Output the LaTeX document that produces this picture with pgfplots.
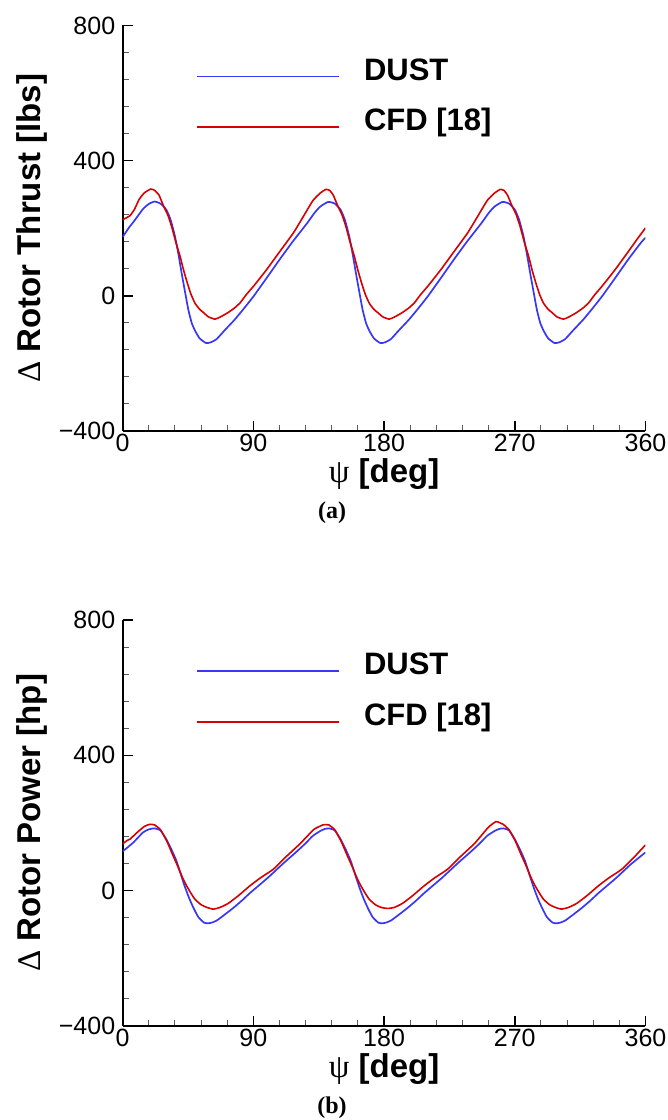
\documentclass[border=0pt]{standalone}
\usepackage{pgfplots}
\pgfplotsset{compat=1.18}
\usepackage{fontspec}
\setmainfont{Liberation Sans}
\newfontfamily\serifgr{Liberation Serif}
\definecolor{dustblue}{RGB}{55,55,245}
\definecolor{cfdred}{RGB}{215,0,0}
\pgfplotsset{
  rotorstyle/.style={
    scale only axis, width=522.8pt, height=405.5pt,
    xmin=0, xmax=360, ymin=-400, ymax=800,
    axis lines*=left,
    axis line style={line width=1.8pt, black},
    xtick={0,90,180,270,360},
    ytick={-400,0,400,800},
    yticklabels={−400,0,400,800},
    minor x tick num=4, minor y tick num=4,
    tick align=inside,
    major tick length=10pt, minor tick length=6pt,
    every major tick/.style={line width=1.5pt, black},
    every minor tick/.style={line width=1pt, black!65},
    /pgf/number format/assume math mode=true,
    tick label style={font=\fontsize{25}{25}\selectfont},
    yticklabel style={xshift=-4pt},
    xlabel style={at={(axis description cs:0.5,0)}, anchor=center, yshift=-43pt, font=\fontsize{33}{33}\selectfont},
    ylabel style={at={(axis description cs:0,0.5)}, anchor=center, yshift=90.7pt, font=\fontsize{33}{33}\selectfont},
    legend style={draw=none, fill=none, inner sep=0pt, at={(axis description cs:0.1402,0.8227)}, anchor=west,
      font=\fontsize{31}{31}\selectfont\bfseries, row sep=20.7pt,
      nodes={inner sep=0pt, text height=23pt, text depth=7pt, anchor=base west}},
    legend cell align=left,
    legend image code/.code={\draw[#1] (0pt,0.35em)--(142pt,0.35em); \path[draw=none] (0pt,0pt)--(167pt,0pt);},
  }
}
\begin{document}
\begin{tikzpicture}
\path[use as bounding box] (-122.7pt,-94.3pt) rectangle (545.3pt,1025.7pt);
% ---------------- (a) thrust ----------------
\begin{axis}[rotorstyle, at={(0pt,594.7pt)}, anchor=south west,
  xlabel={{\serifgr ψ} \textbf{[deg]}},
  ylabel={{\serifgr Δ} \textbf{Rotor Thrust [lbs]}}]
\addplot[dustblue, line width=1.7pt, smooth, tension=0.3] coordinates {
(0,174) (4,200) (8,222) (14,257) (18,272) (22,279) (26,273) (30,255) (33,225) (36,176) (38.5,120) (40.6,67) (43,10) (45.2,-41) (47.5,-80) (49.8,-103) (53,-126) (57.5,-140) (61,-137) (64.7,-128) (70,-103) (77,-71) (83,-40) (90,-2) (99,52) (108,107) (117,160) (127,215) (132,245) (136,264) (141.5,278) (146,273) (150,255) (153,225) (156,176) (158.5,120) (160.6,67) (163,10) (165.2,-41) (167.5,-80) (169.8,-103) (173,-126) (177.5,-140) (181,-137) (184.7,-128) (190,-103) (197,-71) (203,-40) (210,-2) (219,52) (228,107) (237,160) (247,215) (252,245) (256,264) (261.5,278) (266,273) (270,255) (273,225) (276,176) (278.5,120) (280.6,67) (283,10) (285.2,-41) (287.5,-80) (289.8,-103) (293,-126) (297.5,-140) (301,-137) (304.7,-128) (310,-103) (317,-71) (323,-40) (330,-2) (339,52) (348,107) (357,158) (360,172)
};
\addlegendentry{DUST}
\addplot[cfdred, line width=1.6pt, smooth, tension=0.3] coordinates {
(0,225) (3,232) (5,237) (8,255) (11.4,286) (15,305) (19.3,316) (22,312) (25,298) (28,267) (31,240) (33.7,205) (36.5,160) (39.5,117) (42,75) (44.5,38) (47,5) (49.8,-22) (53,-40) (55.5,-49) (59,-62) (63.5,-69) (67,-63) (72,-51) (77,-36) (81,-20) (85,3) (90,28) (99,77) (108,130) (117.5,186) (124,232) (131,282) (136,304) (140,315) (142.5,312) (145,298) (148,267) (151,240) (153.7,205) (156.5,160) (159.5,117) (162,75) (164.5,38) (167,5) (169.8,-22) (173,-40) (175.5,-49) (179,-62) (183.5,-69) (187,-63) (192,-51) (197,-36) (201,-20) (205,3) (210,28) (219,77) (228,130) (237.5,186) (244,232) (251,282) (256,304) (260,315) (262.5,312) (265,298) (268,267) (271,240) (273.7,205) (276.5,160) (279.5,117) (282,75) (284.5,38) (287,5) (289.8,-22) (293,-40) (295.5,-49) (299,-62) (303.5,-69) (307,-63) (312,-51) (317,-36) (321,-20) (325,3) (330,28) (339,77) (348,130) (355,172) (360,201)
};
\addlegendentry{CFD [18]}
\end{axis}
% ---------------- (b) power ----------------
\begin{axis}[rotorstyle, at={(0pt,0pt)}, anchor=south west,
  xlabel={{\serifgr ψ} \textbf{[deg]}},
  ylabel={{\serifgr Δ} \textbf{Rotor Power [hp]}}]
\addplot[dustblue, line width=1.7pt, smooth, tension=0.3] coordinates {
(0,116) (4,130) (7.3,142) (14,172) (18,181) (21.8,184) (26,178) (30,152) (33.5,122) (37,88) (40,48) (43,9) (46,-25) (48.6,-50) (52,-78) (56,-95) (59,-97) (62,-94) (65,-88) (70,-72) (76,-52) (82,-30) (88,-6) (100,38) (110,78) (120,116) (126,140) (131,162) (136,176) (139,182) (142,184) (146,178) (150,152) (153.5,122) (157,88) (160,48) (163,9) (166,-25) (168.6,-50) (172,-78) (176,-95) (179,-97) (182,-94) (185,-88) (190,-72) (196,-52) (202,-30) (208,-6) (220,38) (230,78) (240,116) (246,140) (251,162) (256,176) (259,182) (262,184) (266,178) (270,152) (273.5,122) (277,88) (280,48) (283,9) (286,-25) (288.6,-50) (292,-78) (296,-95) (299,-97) (302,-94) (305,-88) (310,-72) (316,-52) (322,-30) (328,-6) (340,38) (350,78) (360,113)
};
\addlegendentry{DUST}
\addplot[cfdred, line width=1.6pt, smooth, tension=0.3] coordinates {
(0,138) (3,148) (5,152) (10,172) (15,190) (18.8,196) (22,194) (26,180) (30.3,147) (34,110) (38.3,68) (41,40) (44,14) (47,-8) (49.8,-26) (54,-42) (58,-50) (62.4,-55) (67,-50) (72.7,-38) (80,-14) (87.6,14) (95,38) (103.7,63) (112,98) (122,138) (128,165) (132,182) (137.7,194) (140,195) (142,194) (146,180) (150.3,147) (154,110) (158.3,68) (161,40) (164,14) (167,-8) (169.8,-26) (174,-42) (178,-50) (182.4,-53) (187,-50) (192.7,-38) (200,-14) (207.6,14) (215,38) (223.7,63) (232,98) (242,138) (248,168) (252,188) (257,204) (260,200) (262,196) (266,180) (270.3,147) (274,110) (278.3,68) (281,40) (284,14) (287,-8) (289.8,-26) (294,-42) (298,-50) (302,-55) (307,-50) (312.7,-38) (320,-14) (327.6,14) (335,38) (343.7,63) (352,98) (360,135)
};
\addlegendentry{CFD [18]}
\end{axis}
\node[font=\serifgr\bfseries\fontsize{24}{24}\selectfont] at (209.3pt,512.7pt) {(a)};
\node[font=\serifgr\bfseries\fontsize{24}{24}\selectfont] at (209.3pt,-82.3pt) {(b)};
\end{tikzpicture}
\end{document}
